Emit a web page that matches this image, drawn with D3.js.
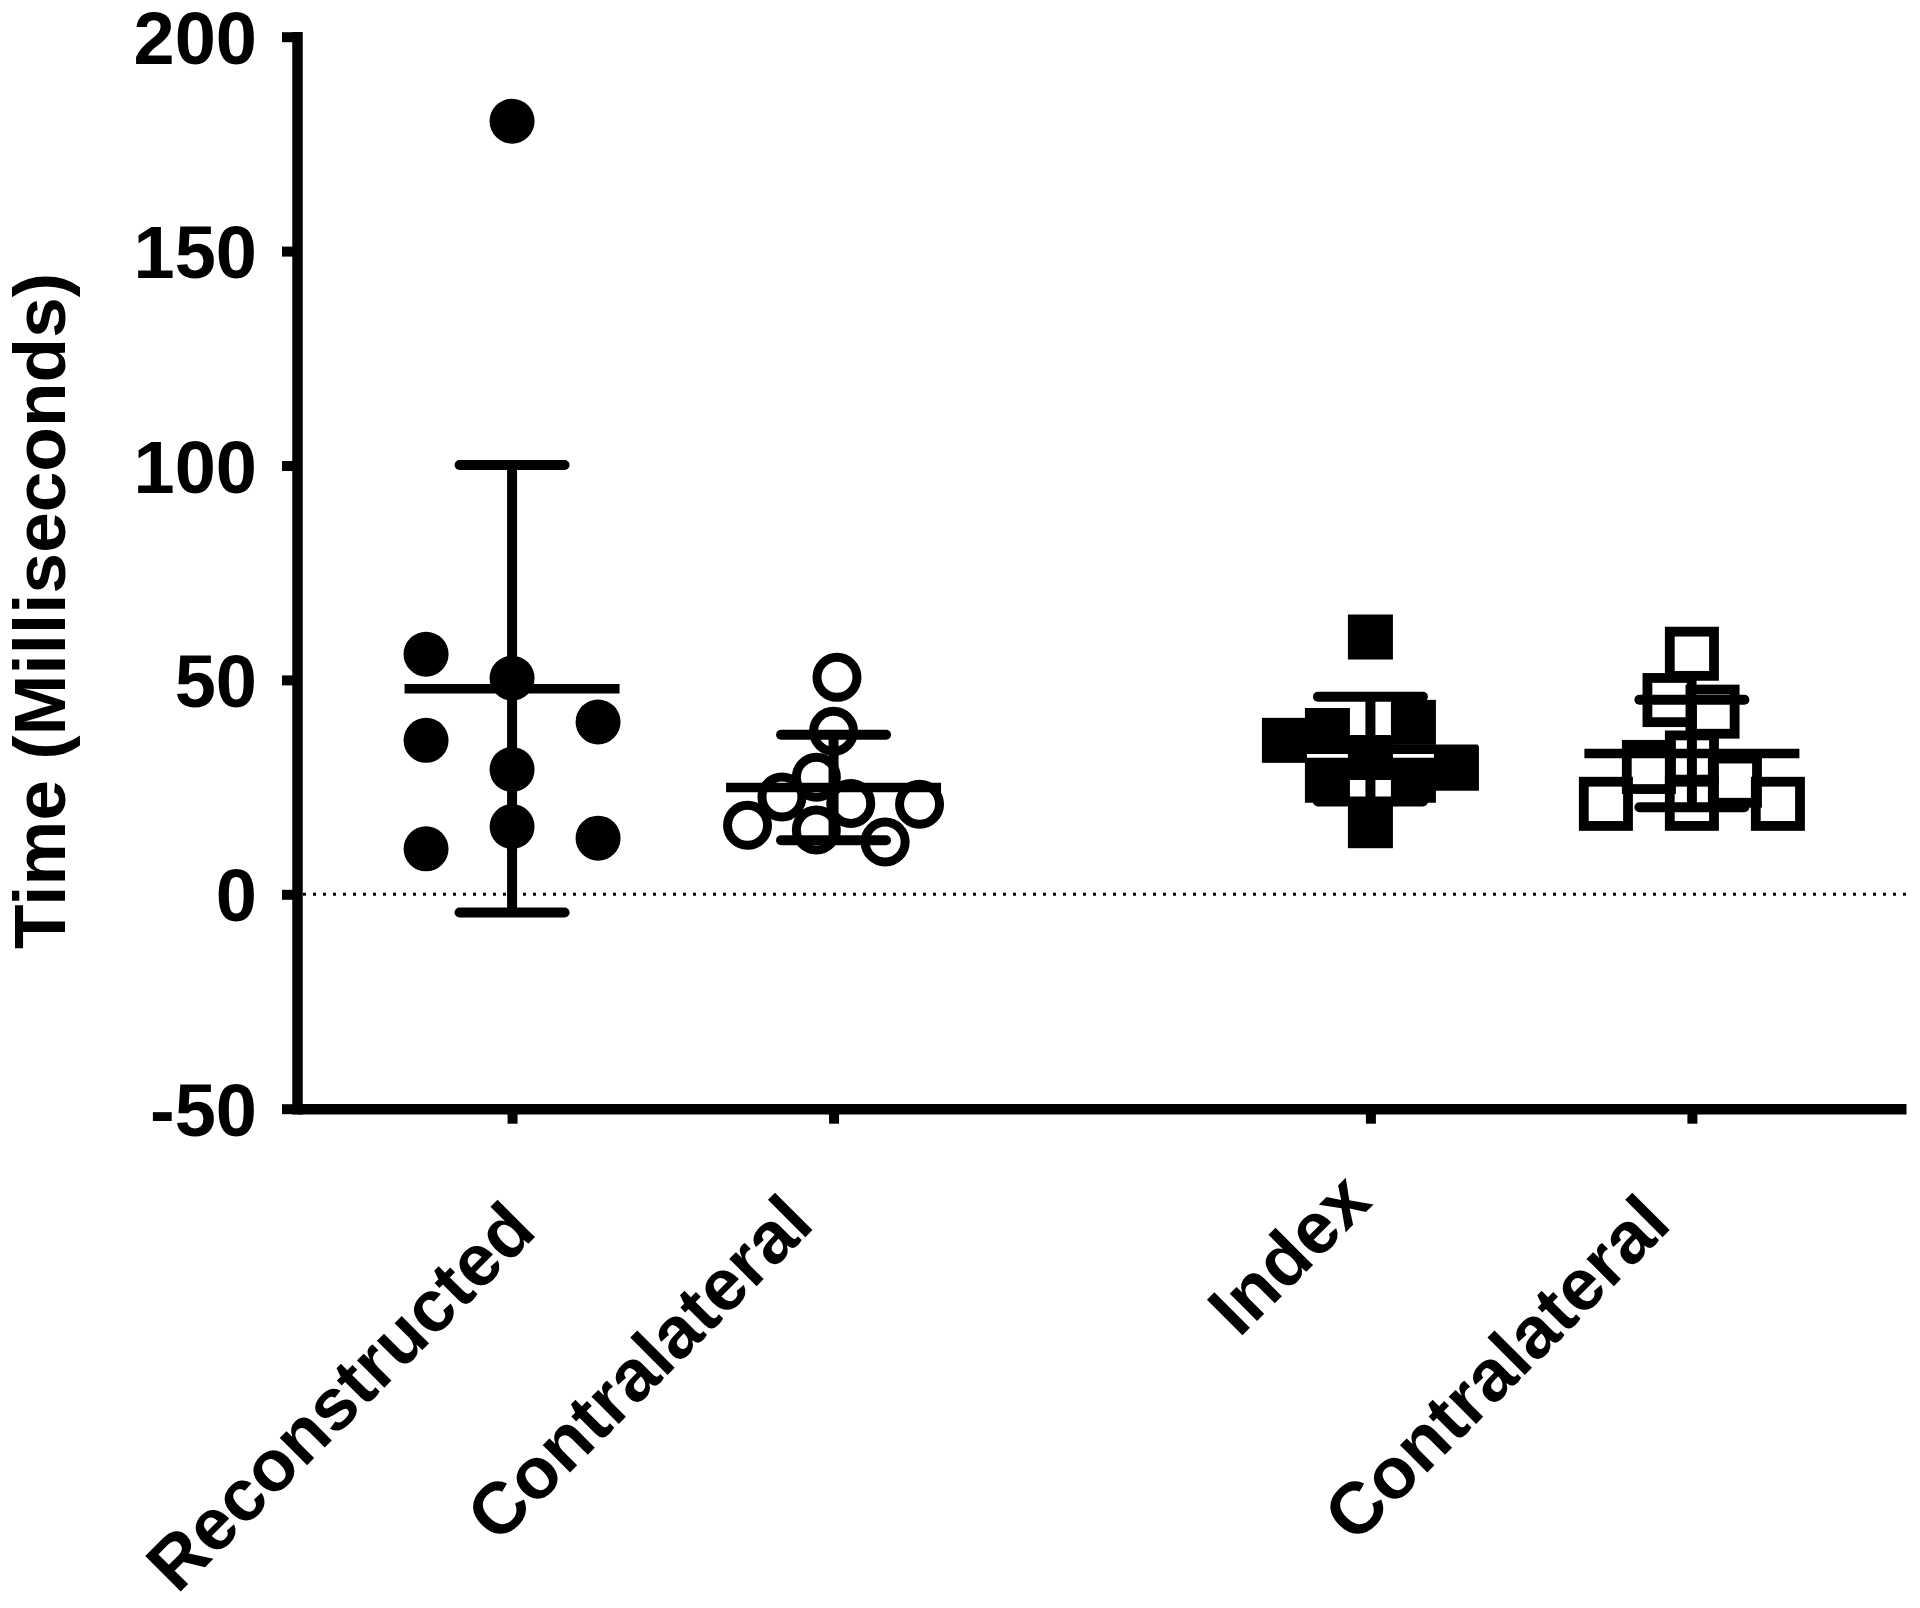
<!DOCTYPE html>
<html><head><meta charset="utf-8">
<script src="https://cdn.jsdelivr.net/npm/d3@7"></script>
<style>
html,body{margin:0;padding:0;background:#fff;}
svg{display:block;background:#fff;}
text{font-family:"Liberation Sans",Arial,Helvetica,sans-serif;font-weight:bold;fill:#000;}
</style></head><body>
<svg id="chart" width="1920" height="1608"></svg>
<script>
// ---- data ----
const categories = ["Reconstructed", "Contralateral", "Index", "Contralateral"];
const reconstructedValues = [180.3, 56.0, 50.4, 40.2, 35.9, 29.1, 15.8, 13.1, 10.6];
const reconstructedSlots  = [0, -5, 0, 5, -5, 0, 0, 5, -5];
const contraCircleValues  = [50.6, 38.0, 27.3, 22.7, 21.2, 21.0, 16.1, 15.0, 12.2];
const contraCircleSlots   = [0.2, 0, -1, -3, 1, 5, -5, -1, 3];
const indexValues         = [60.0, 40.1, 38.2, 35.9, 31.9, 29.4, 26.6, 26.6, 16.0];
const indexSlots          = [0, 2.5, -2.5, -5, 0, 5, -2.5, 2.5, 0];
const contraSquareValues  = [56.1, 45.3, 42.6, 31.9, 29.7, 26.5, 21.1, 21.1, 21.1];
const contraSquareSlots   = [0, -1.3, 1.2, 0, -2.5, 2.5, -5, 0, 5];
const yTickValues = [-50, 0, 50, 100, 150, 200];
const yTickLabels = ["-50", "0", "50", "100", "150", "200"];
const yTitle = "Time (Milliseconds)";

// ---- layout ----
const groupPos = [0, 1, 2.67, 3.67];
const markerTypes = ["filledCircle", "openCircle", "filledSquare", "openSquare"];
const labelOffsets = [[26.5, 124.8], [-17.5, 117.8], [3.5, 95.3], [-18.5, 117.8]];
const axisX = 297, axisY = 1108.7;

const svg = d3.select("#chart");
const y = d3.scaleLinear().domain([-50, 200]).range([axisY, 36.7]);
const x = d3.scaleLinear().domain([-0.669, 4.336]).range([axisX, 1906]);
const slot = d3.scaleLinear().domain([-5, 5]).range([-86, 86]);

// zero reference line (dotted)
svg.append("line")
  .attr("x1", axisX + 6).attr("x2", x.range()[1])
  .attr("y1", y(0)).attr("y2", y(0))
  .attr("stroke", "#000").attr("stroke-width", 3)
  .attr("stroke-dasharray", "3 7");

// y axis
const gy = svg.append("g").attr("transform", `translate(${axisX},0)`)
  .call(d3.axisLeft(y).tickValues(yTickValues).tickSize(15).tickSizeOuter(0)
        .tickPadding(25).tickFormat((d, i) => yTickLabels[i]));
gy.select(".domain").attr("stroke-width", 10.5).attr("stroke-linecap", "square");
gy.selectAll(".tick line").attr("stroke-width", 10);
gy.selectAll(".tick text").attr("font-size", 74).attr("font-family", null)
  .attr("dy", "0.36em");

// x axis
const gx = svg.append("g").attr("transform", `translate(0,${axisY})`)
  .call(d3.axisBottom(x).tickValues(groupPos).tickSize(15).tickSizeOuter(0).tickFormat(""));
gx.select(".domain").attr("stroke-width", 10.5).attr("stroke-linecap", "butt");
gx.selectAll(".tick line").attr("stroke-width", 10);

// x category labels (rotated)
svg.append("g").selectAll("text").data(categories).join("text")
  .attr("text-anchor", "end")
  .attr("font-size", 73)
  .attr("transform", (d, i) => `translate(${x(groupPos[i]) + labelOffsets[i][0]},${axisY + labelOffsets[i][1]}) rotate(-45)`)
  .text(d => d);

// y title
svg.append("text")
  .attr("text-anchor", "middle")
  .attr("font-size", 73)
  .attr("transform", "translate(65,611) rotate(-90)")
  .text(yTitle);

// groups
const groups = [
  { values: reconstructedValues, slots: reconstructedSlots },
  { values: contraCircleValues,  slots: contraCircleSlots },
  { values: indexValues,         slots: indexSlots },
  { values: contraSquareValues,  slots: contraSquareSlots }
];

groups.forEach((g, i) => {
  const cx = x(groupPos[i]);
  const type = markerTypes[i];
  const pts = g.values.map((v, k) => ({ v, s: g.slots[k] }));
  const layer = svg.append("g");
  if (type === "filledCircle") {
    layer.selectAll("circle").data(pts).join("circle")
      .attr("cx", d => cx + slot(d.s)).attr("cy", d => y(d.v)).attr("r", 22.5).attr("fill", "#000");
  } else if (type === "openCircle") {
    layer.selectAll("circle").data(pts).join("circle")
      .attr("cx", d => cx + slot(d.s)).attr("cy", d => y(d.v)).attr("r", 20)
      .attr("fill", "none").attr("stroke", "#000").attr("stroke-width", 9);
  } else if (type === "filledSquare") {
    const s = 45;
    layer.selectAll("rect").data(pts).join("rect")
      .attr("x", d => cx + slot(d.s) - s / 2).attr("y", d => y(d.v) - s / 2)
      .attr("width", s).attr("height", s).attr("fill", "#000");
  } else {
    const s = 44.2;
    layer.selectAll("rect").data(pts).join("rect")
      .attr("x", d => cx + slot(d.s) - s / 2).attr("y", d => y(d.v) - s / 2)
      .attr("width", s).attr("height", s)
      .attr("fill", "none").attr("stroke", "#000").attr("stroke-width", 9.8);
  }
  const m = d3.mean(g.values), sd = d3.deviation(g.values);
  const lines = svg.append("g").attr("stroke", "#000");
  // mean line
  lines.append("line").attr("x1", cx - 107.5).attr("x2", cx + 107.5)
    .attr("y1", y(m)).attr("y2", y(m)).attr("stroke-width", 9.5);
  // SD bar
  lines.append("line").attr("x1", cx).attr("x2", cx)
    .attr("y1", y(m + sd)).attr("y2", y(m - sd)).attr("stroke-width", 10);
  [m + sd, m - sd].forEach(v => {
    lines.append("line").attr("x1", cx - 52.5).attr("x2", cx + 52.5)
      .attr("y1", y(v)).attr("y2", y(v)).attr("stroke-width", 10).attr("stroke-linecap", "round");
  });
});
</script>
</body></html>
